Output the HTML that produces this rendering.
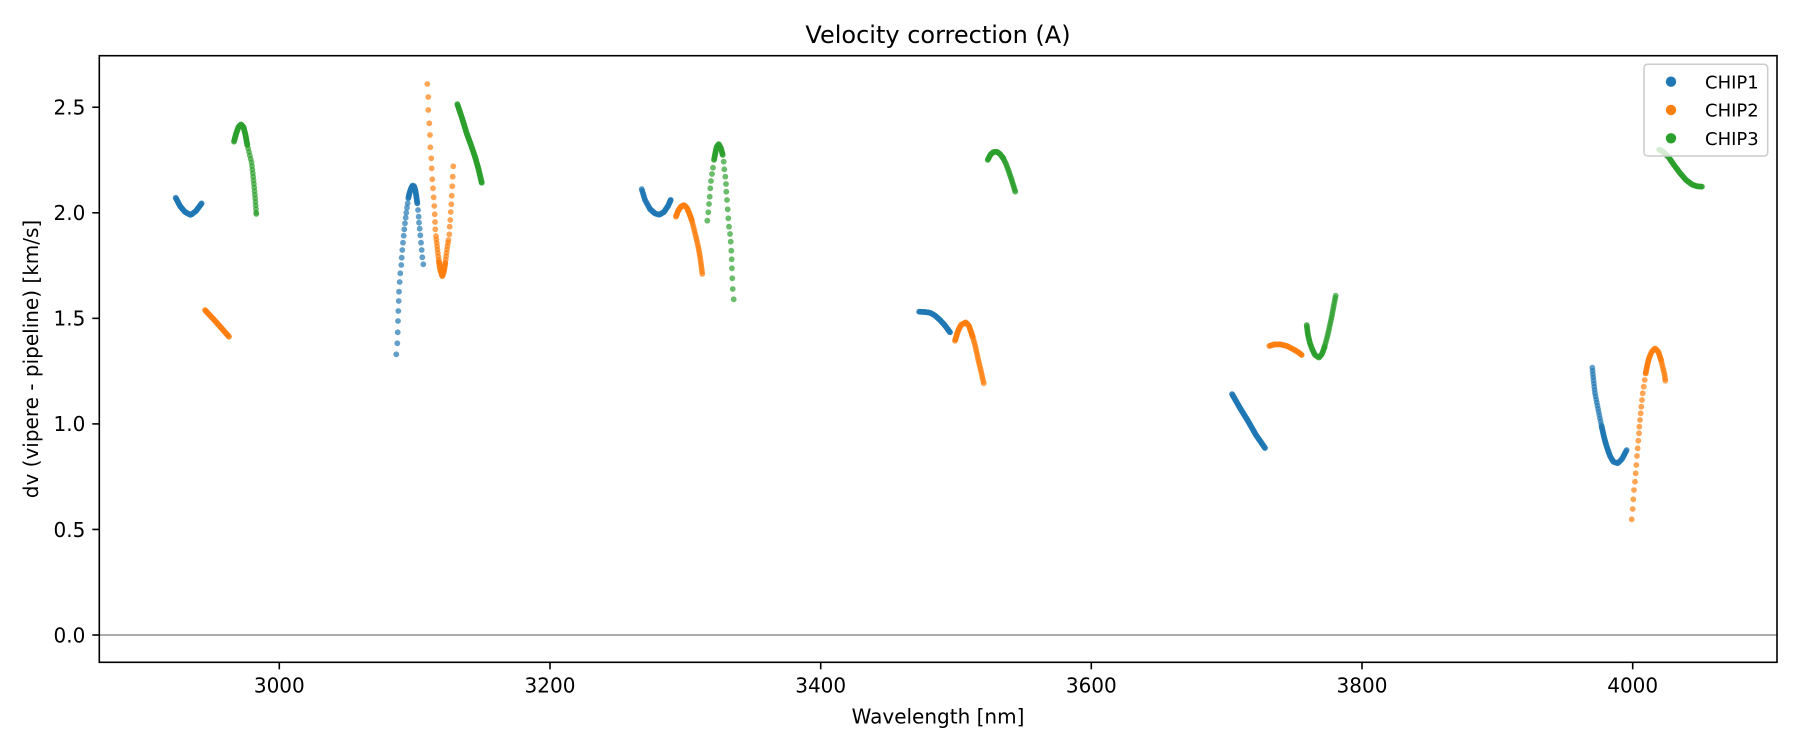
<!DOCTYPE html>
<html>
<head>
<meta charset="utf-8">
<style>
  html, body { margin: 0; padding: 0; background: #ffffff; }
  body { width: 1800px; height: 750px; overflow: hidden; }
  svg { display: block; }
  text { font-family: "DejaVu Sans", "Liberation Sans", sans-serif; fill: #000; }
</style>
</head>
<body>
<svg id="chart" xmlns="http://www.w3.org/2000/svg" width="1800" height="750" viewBox="0 0 1800 750">
  <rect x="0" y="0" width="1800" height="750" fill="#ffffff"/>
  <!-- title -->
  <text x="938" y="43" font-size="24" text-anchor="middle">Velocity correction (A)</text>

  <!-- zero line -->
  <line x1="99.3" y1="635" x2="1777" y2="635" stroke="#7a7a7a" stroke-width="1.3"/>

  <!-- data -->
  <g id="data"></g>

  <!-- axes frame -->
  <rect x="99.3" y="55.7" width="1677.7" height="606.6" fill="none" stroke="#000" stroke-width="1.6"/>

  <!-- x ticks -->
  <g stroke="#000" stroke-width="1.6">
    <line x1="279.3" y1="662.3" x2="279.3" y2="669.3"/>
    <line x1="550" y1="662.3" x2="550" y2="669.3"/>
    <line x1="820.7" y1="662.3" x2="820.7" y2="669.3"/>
    <line x1="1091.3" y1="662.3" x2="1091.3" y2="669.3"/>
    <line x1="1362" y1="662.3" x2="1362" y2="669.3"/>
    <line x1="1632.7" y1="662.3" x2="1632.7" y2="669.3"/>
  </g>
  <g font-size="20" text-anchor="middle">
    <text x="279.3" y="692.7">3000</text>
    <text x="550" y="692.7">3200</text>
    <text x="820.7" y="692.7">3400</text>
    <text x="1091.3" y="692.7">3600</text>
    <text x="1362" y="692.7">3800</text>
    <text x="1632.7" y="692.7">4000</text>
  </g>

  <!-- y ticks -->
  <g stroke="#000" stroke-width="1.6">
    <line x1="92.3" y1="635" x2="99.3" y2="635"/>
    <line x1="92.3" y1="529.45" x2="99.3" y2="529.45"/>
    <line x1="92.3" y1="423.9" x2="99.3" y2="423.9"/>
    <line x1="92.3" y1="318.35" x2="99.3" y2="318.35"/>
    <line x1="92.3" y1="212.8" x2="99.3" y2="212.8"/>
    <line x1="92.3" y1="107.25" x2="99.3" y2="107.25"/>
  </g>
  <g font-size="20" text-anchor="end">
    <text x="85.3" y="642.3">0.0</text>
    <text x="85.3" y="536.75">0.5</text>
    <text x="85.3" y="431.2">1.0</text>
    <text x="85.3" y="325.65">1.5</text>
    <text x="85.3" y="220.1">2.0</text>
    <text x="85.3" y="114.55">2.5</text>
  </g>

  <!-- axis labels -->
  <text x="938" y="723.3" font-size="20" text-anchor="middle">Wavelength [nm]</text>
  <text transform="translate(38,359) rotate(-90)" font-size="20" text-anchor="middle">dv (vipere - pipeline) [km/s]</text>

  <!-- legend -->
  <rect x="1644" y="64.3" width="123.7" height="91.7" rx="3.5" ry="3.5" fill="#ffffff" fill-opacity="0.8" stroke="#cccccc" stroke-width="1.5"/>
  <circle cx="1671" cy="81.7" r="5.2" fill="#1f77b4"/>
  <circle cx="1671" cy="110" r="5.2" fill="#ff7f0e"/>
  <circle cx="1671" cy="138.3" r="5.2" fill="#2ca02c"/>
  <g font-size="18">
    <text x="1705" y="88.3">CHIP1</text>
    <text x="1705" y="116.6">CHIP2</text>
    <text x="1705" y="144.9">CHIP3</text>
  </g>
</svg>
<script>
(function(){
  var g = document.getElementById("data");
  var C = { b: "#1f77b4", o: "#ff7f0e", g: "#2ca02c" };
  var R = 2.9, OP = 0.7;
  var buf = { b: [], o: [], g: [] };
  function dot(x, y, c) { buf[c].push([x, y]); }
  function pts(list, c) { for (var i = 0; i < list.length; i++) dot(list[i][0], list[i][1], c); }
  function line(p, c, step) {
    step = step || 0.8;
    dot(p[0][0], p[0][1], c);
    var carry = 0;
    for (var i = 1; i < p.length; i++) {
      var x0 = p[i-1][0], y0 = p[i-1][1], x1 = p[i][0], y1 = p[i][1];
      var d = Math.sqrt((x1-x0)*(x1-x0) + (y1-y0)*(y1-y0));
      var t = step - carry;
      while (t <= d) {
        dot(x0 + (x1-x0)*t/d, y0 + (y1-y0)*t/d, c);
        t += step;
      }
      carry = d - (t - step);
    }
    var last = p[p.length-1];
    dot(last[0], last[1], c);
  }

  /* ---------- CHIP1 (blue) ---------- */
  line([[175.7,197.7],[180,206],[185,212],[190.7,215],[196,211],[201.7,203.3]], "b");
  pts([[396.3,354.3],[397.3,343.3],[397.7,332.3],[398,321],[398.3,311],[398.7,301],[399,291.7],[399.7,282],
       [400.3,273.3],[401.3,265],[401.7,257.7],[402.3,250],[403,242.7],[403.7,235.7],[404.3,229.3],[405,223.3],
       [405.7,217.7],[406.3,212.7],[407,207.7],[407.7,203.3]], "b");
  line([[408.3,198.3],[409.5,193],[411,188.5],[412.5,185.5],[414,186],[415.3,190],[416.3,196],[417.3,203.3]], "b", 0.9);
  pts([[418,210],[418.7,216.7],[419,222.7],[419.7,228.7],[420.3,235.3],[421,242.7],[421.7,250],[422.3,257.3],[423.3,264.3]], "b");
  line([[641.7,189],[645,200],[650,209]], "b", 1.4);
  line([[650,209],[655,213.5],[659.3,214.7],[664,212],[668,206],[670.7,200]], "b");
  line([[919,311.7],[925,312],[930,312.7],[935,315.5],[940,320],[945,325.5],[950,332.3]], "b");
  line([[1232,394],[1240,408],[1248,421],[1256,435],[1265,448]], "b");
  line([[1592.3,367.7],[1593.5,380],[1595,393.3],[1598.3,410],[1601.7,426.7]], "b", 3.2);
  line([[1601.7,426.7],[1604,437],[1606.7,446.7],[1610,456],[1613.3,461.7],[1617.7,463.3],[1622,459],[1626.7,450]], "b", 1.0);

  /* ---------- CHIP2 (orange) ---------- */
  line([[205,310],[217,323],[229,336.7]], "o");
  pts([[427.3,84],[428.3,97],[428.3,110],[429.3,123.3],[430,135],[430.3,147.3],[431.3,158.3],[431.7,168.3],
       [432.3,179.3],[433,188.3],[433.7,197.3],[434.3,206],[434.7,214.3],[435,222],[435.3,229.3]], "o");
  line([[436,236],[437,245],[438,254],[439,262]], "o", 3.4);
  line([[439,262],[440.3,270],[442.3,276.5],[444,271],[445.3,263]], "o", 1.2);
  line([[445.3,263],[446.3,255],[447.3,247],[448.5,240]], "o", 3.4);
  pts([[449.3,234.3],[449.7,226.7],[450.3,220],[450.7,212],[451.3,204.3],[451.7,195.7],[452.3,186.3],[452.7,176.7],[453.3,166.3]], "o");
  line([[676,216.7],[678,211],[681,206.5],[684,205],[687,208],[689.5,214],[691.7,220]], "o");
  line([[691.7,220],[694,229],[696.7,240],[698.5,248],[700,256.7],[701.2,265],[702.3,274]], "o", 2.4);
  line([[955,340.7],[958,331],[961,325],[965.7,322.3],[969,326],[972.7,336.7]], "o");
  line([[972.7,336.7],[975.5,347],[978.3,360],[981,371],[983.7,383.3]], "o", 2.4);
  line([[1269.3,346],[1274,344.5],[1280,344.3],[1287,346],[1293.3,349.3],[1298,352],[1301.7,355]], "o");
  pts([[1631.7,519.3],[1632.7,509],[1633.3,499.3],[1634,490],[1635,481.7],[1635.7,473.3],[1636.3,465],[1637,456],
       [1637.7,448.3],[1638.3,440.7],[1639,433.3],[1639.3,426.7],[1640,420],[1640.7,413.3],[1641.3,406.7],[1642,400],
       [1642.7,393.3],[1643.7,386.7],[1644.7,380],[1645.7,373.3]], "o");
  line([[1645.7,373.3],[1647.3,365],[1649,358.3],[1651.7,351.7],[1655,348.3],[1658.3,351.7],[1661,360]], "o", 1.2);
  line([[1661,360],[1663,368.3],[1664.7,375],[1665.3,380.7]], "o", 2.4);

  /* ---------- CHIP3 (green) ---------- */
  line([[234,141.7],[236,134],[238.5,127],[241,124.3],[243.5,127],[245.5,135],[247.3,145]], "g");
  line([[247.3,145],[249.5,154],[251.7,163.3],[253,175],[254.3,188],[255.3,200],[256.3,214]], "g", 3.6);
  line([[457.3,104],[462,118],[466.7,133.3],[471,145],[475,156.7],[478.5,169],[481.7,182.7]], "g");
  pts([[707.3,220.7],[708.3,212.3],[709,204],[709.7,196.7],[710.3,188.3],[711,181],[712,174],[713,167.7]], "g");
  line([[714,160],[715.3,153.3],[716.7,146.7],[718.7,144],[721,148.3],[722.7,155]], "g", 1.0);
  pts([[723.7,161.7],[724.3,169.3],[725.3,176.7],[726,184],[726.3,191.7],[727,200],[727.7,209.3],[728.3,218.3],
       [729,226.7],[730,234],[730.7,241.7],[731.3,250.7],[731.7,259.3],[731.9,268.3],[732.3,278.3],[732.7,289],[733.7,299.3]], "g");
  line([[987.7,160],[990.5,154.5],[993.5,152],[996.7,151.7],[1000,154],[1003.3,158.3]], "g");
  line([[1003.3,158.3],[1006,164],[1008.3,170],[1011.7,180],[1015.3,191.7]], "g", 1.8);
  line([[1306.7,325],[1308,335],[1310,343.3],[1312.5,350],[1315,355],[1319,357.7],[1322,354],[1324.5,347]], "g", 1.2);
  line([[1324.5,347],[1327.3,336.7],[1329.5,327],[1331.7,316.7],[1333.7,306],[1335.7,295.7]], "g", 2.4);
  line([[1659,149.5],[1663,151.5],[1668.3,156.7],[1674,165],[1680,173],[1686,180],[1692,184.5],[1697,186.3],[1702,186.7]], "g");

  var html = "";
  ["b","o","g"].forEach(function(k){
    var arr = buf[k];
    for (var i = 0; i < arr.length; i++) {
      html += '<circle cx="' + arr[i][0].toFixed(2) + '" cy="' + arr[i][1].toFixed(2) + '" r="' + R +
              '" fill="' + C[k] + '" fill-opacity="' + OP + '"/>';
    }
  });
  g.innerHTML = html;
})();
</script>
</body>
</html>
